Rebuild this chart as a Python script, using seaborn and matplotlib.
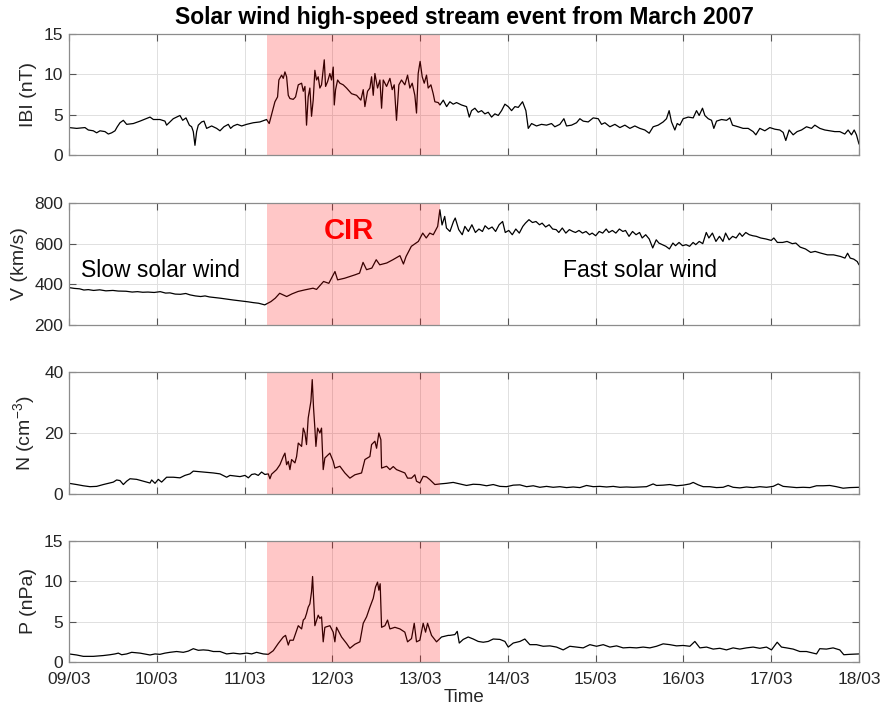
import numpy as np
import pandas as pd
import matplotlib
matplotlib.use("Agg")
import matplotlib.pyplot as plt
import matplotlib.dates as mdates
import seaborn as sns

# ---------------- data (time in days since 09/03/2007 00:00) ----------------
# |B| (nT)
B_T = [
    0.000, 0.087, 0.182, 0.220, 0.277, 0.315, 0.353, 0.410, 0.448, 0.486,
    0.524, 0.550, 0.581, 0.619, 0.657, 0.733, 0.809, 0.923, 0.961, 1.036,
    1.093, 1.112, 1.150, 1.188, 1.226, 1.264, 1.295, 1.333, 1.371, 1.397,
    1.416, 1.435, 1.454, 1.473, 1.511, 1.538, 1.568, 1.625, 1.682, 1.720,
    1.765, 1.815, 1.841, 1.872, 1.917, 1.967, 2.024, 2.100, 2.175, 2.251,
    2.281,
    2.308, 2.346, 2.376, 2.391, 2.422, 2.441, 2.460, 2.479, 2.498, 2.517,
    2.555, 2.581, 2.612, 2.650, 2.669, 2.688, 2.706, 2.725, 2.744, 2.763,
    2.782, 2.801, 2.820, 2.839, 2.858, 2.877, 2.908, 2.923, 2.946, 2.972,
    2.991, 3.010, 3.022, 3.037, 3.060, 3.086, 3.124, 3.162, 3.219, 3.276,
    3.325, 3.352, 3.371, 3.401, 3.428, 3.447, 3.466, 3.485, 3.515, 3.542,
    3.561, 3.580, 3.618, 3.656, 3.682, 3.705, 3.731, 3.758, 3.788, 3.826,
    3.857, 3.883, 3.910, 3.940, 3.959, 3.978, 4.000, 4.024, 4.047, 4.073,
    4.092, 4.123, 4.149, 4.168, 4.206,
    4.226, 4.264, 4.302, 4.339, 4.377, 4.415, 4.472, 4.529, 4.560, 4.586,
    4.624, 4.662, 4.700, 4.738, 4.776, 4.814, 4.852, 4.890, 4.928, 4.966,
    5.004, 5.042, 5.080, 5.118, 5.167, 5.205, 5.232, 5.270, 5.326, 5.383,
    5.440, 5.497, 5.535, 5.592, 5.638, 5.668, 5.725, 5.782, 5.820, 5.858,
    5.915, 5.972, 6.029, 6.067, 6.105, 6.162, 6.219, 6.276, 6.333, 6.390,
    6.446, 6.503, 6.560, 6.610, 6.655, 6.712, 6.769, 6.807, 6.837, 6.864,
    6.902, 6.929, 6.959, 6.997, 7.054, 7.111, 7.149, 7.179, 7.217, 7.244,
    7.282, 7.320, 7.346, 7.377, 7.434, 7.491, 7.529, 7.559, 7.623, 7.680,
    7.737, 7.794, 7.825, 7.870, 7.927, 7.984, 8.041, 8.098, 8.136, 8.166,
    8.204, 8.250, 8.295, 8.345, 8.402, 8.459, 8.497, 8.554, 8.611, 8.667,
    8.724, 8.781, 8.838, 8.876, 8.914, 8.945, 8.971, 9.000]
B_V = [
    3.4, 3.3, 3.4, 3.1, 3.0, 2.75, 3.0, 2.9, 2.6, 2.75,
    3.0, 3.5, 4.0, 4.3, 3.8, 3.9, 4.2, 4.7, 4.4, 4.4,
    4.2, 3.7, 4.1, 4.5, 4.7, 4.9, 4.3, 4.6, 3.7, 3.5,
    2.9, 1.2, 2.9, 3.7, 4.1, 4.2, 3.3, 3.6, 3.3, 3.0,
    3.5, 3.8, 3.3, 3.6, 3.8, 3.6, 3.8, 4.0, 4.1, 4.4,
    3.9,
    5.0, 6.6, 7.2, 9.3, 9.9, 9.5, 10.3, 9.7, 7.4, 7.0,
    6.9, 7.2, 8.7, 8.9, 7.9, 8.5, 3.7, 7.2, 8.3, 4.8,
    6.8, 10.5, 9.3, 9.7, 8.3, 8.7, 11.8, 8.5, 9.1, 10.1,
    9.3, 10.9, 6.2, 8.1, 9.3, 8.9, 8.7, 8.3, 7.6, 7.4,
    6.8, 8.1, 6.0, 7.9, 8.3, 9.7, 7.4, 10.1, 8.3, 9.3,
    5.8, 9.3, 8.5, 9.5, 8.1, 8.7, 4.3, 8.7, 9.3, 8.7,
    9.9, 8.3, 8.9, 7.4, 5.2, 10.1, 11.6, 9.7, 8.9, 9.9,
    8.3, 8.7, 7.6, 6.6, 6.5,
    6.2, 6.8, 6.0, 6.6, 6.3, 6.5, 6.2, 6.0, 4.7, 5.5,
    5.8, 5.3, 5.5, 5.1, 5.3, 4.7, 5.1, 4.9, 5.5, 6.3,
    6.0, 5.5, 6.0, 5.9, 6.6, 5.5, 3.3, 3.9, 3.6, 3.8,
    3.7, 3.9, 3.5, 3.8, 4.5, 3.6, 3.7, 4.0, 4.5, 4.2,
    4.1, 4.6, 4.5, 3.8, 4.0, 3.5, 3.8, 3.4, 3.7, 3.3,
    3.6, 3.3, 3.1, 2.7, 3.5, 3.7, 4.1, 4.5, 5.5, 4.1,
    3.1, 3.9, 3.7, 4.5, 4.7, 4.6, 5.5, 4.9, 5.8, 4.9,
    4.5, 4.3, 3.3, 4.2, 4.4, 4.3, 4.6, 3.7, 3.5, 3.3,
    3.3, 2.9, 2.5, 3.3, 3.0, 3.4, 3.2, 3.1, 2.8, 1.8,
    3.1, 2.5, 2.9, 3.1, 3.5, 3.3, 3.7, 3.3, 3.1, 3.0,
    2.9, 2.9, 2.6, 3.1, 2.5, 3.1, 2.5, 1.35]

# V (km/s)
V_T = [
    0.00, 0.06, 0.12, 0.17, 0.22, 0.28, 0.35, 0.42, 0.50, 0.56,
    0.65, 0.72, 0.78, 0.84, 0.90, 0.97, 1.04, 1.10, 1.15, 1.21,
    1.27, 1.33, 1.38, 1.44, 1.50, 1.55, 1.60, 1.66, 1.72, 1.80,
    1.87, 1.93, 1.98, 2.04, 2.10, 2.16, 2.23,
    2.30, 2.35, 2.40, 2.48, 2.54, 2.61, 2.69, 2.78, 2.82, 2.90,
    2.96, 3.03, 3.06, 3.14, 3.26, 3.31, 3.35, 3.39, 3.45, 3.50,
    3.54, 3.62, 3.69, 3.77, 3.81, 3.84, 3.90, 3.98, 4.03, 4.07,
    4.11, 4.15, 4.20, 4.225, 4.25, 4.28,
    4.30, 4.34, 4.38, 4.40, 4.44, 4.48, 4.51, 4.55, 4.59, 4.63,
    4.67, 4.71, 4.74, 4.78, 4.82, 4.86, 4.90, 4.94, 4.97, 5.01,
    5.05, 5.09, 5.13, 5.17, 5.20, 5.24, 5.28, 5.32, 5.36, 5.39,
    5.43, 5.47, 5.51, 5.55, 5.58, 5.62, 5.66, 5.70, 5.74, 5.77,
    5.81, 5.85, 5.89, 5.93, 5.96, 6.00, 6.04, 6.08, 6.12, 6.15,
    6.19, 6.23, 6.27, 6.31, 6.34, 6.38, 6.42, 6.46, 6.50, 6.53,
    6.57, 6.61, 6.65, 6.69, 6.72, 6.76, 6.80, 6.84, 6.88, 6.91,
    6.95, 6.99, 7.03, 7.07, 7.11, 7.14, 7.18, 7.22, 7.26, 7.29,
    7.33, 7.37, 7.41, 7.45, 7.48, 7.52, 7.56, 7.60, 7.64, 7.67,
    7.71, 7.75, 7.79, 7.83, 7.88, 7.94, 8.00, 8.03, 8.07, 8.13,
    8.18, 8.24, 8.28, 8.33, 8.39, 8.45, 8.50, 8.56, 8.64, 8.71,
    8.79, 8.84, 8.87, 8.90, 8.94, 8.98, 9.00]
V_V = [
    384, 380, 378, 372, 374, 370, 373, 368, 370, 367,
    366, 362, 364, 361, 362, 360, 364, 357, 358, 352,
    351, 355, 348, 343, 340, 343, 338, 335, 332, 327,
    323, 320, 318, 314, 310, 307, 299,
    315, 332, 356, 340, 353, 365, 373, 381, 375, 414,
    405, 463, 422, 430, 447, 455, 508, 472, 480, 521,
    496, 505, 521, 541, 500, 537, 587, 611, 652, 628,
    652, 644, 685, 767, 692, 734,
    677, 660, 709, 726, 669, 644, 685, 660, 693, 655,
    672, 660, 688, 672, 682, 660, 693, 709, 655, 665,
    644, 672, 652, 685, 701, 718, 704, 709, 693, 701,
    682, 693, 672, 669, 655, 677, 652, 669, 660, 655,
    665, 652, 660, 644, 652, 639, 660, 652, 672, 655,
    665, 652, 672, 660, 665, 636, 660, 644, 655, 628,
    644, 623, 579, 619, 603, 595, 587, 574, 603, 590,
    606, 590, 595, 587, 606, 595, 611, 600, 655, 628,
    652, 611, 636, 611, 652, 619, 636, 628, 652, 636,
    655, 644, 639, 636, 628, 623, 616, 628, 606, 606,
    611, 600, 603, 583, 574, 557, 562, 554, 545, 545,
    537, 529, 553, 529, 524, 512, 496]

# N (cm^-3)
N_T = [
    0.000, 0.087, 0.163, 0.239, 0.315, 0.391, 0.448, 0.505, 0.543, 0.581,
    0.619, 0.657, 0.695, 0.771, 0.847, 0.923, 0.942, 0.980, 1.017, 1.055,
    1.112, 1.188, 1.264, 1.321, 1.378, 1.416, 1.492, 1.568, 1.644, 1.720,
    1.796, 1.834, 1.891, 1.948, 2.005, 2.043, 2.081, 2.118, 2.156, 2.194,
    2.232, 2.270, 2.289,
    2.308, 2.365, 2.403, 2.441, 2.460, 2.479, 2.498, 2.517, 2.536, 2.574,
    2.593, 2.612, 2.650, 2.669, 2.688, 2.706, 2.725, 2.756, 2.771, 2.786,
    2.801, 2.813, 2.832, 2.858, 2.877, 2.896, 2.915, 2.972, 3.010, 3.029,
    3.086, 3.143, 3.200, 3.257, 3.333, 3.371, 3.428, 3.447, 3.485, 3.504,
    3.530, 3.553, 3.561, 3.618, 3.656, 3.694, 3.731, 3.826, 3.857, 3.902,
    3.940, 3.959, 3.997, 4.035, 4.073, 4.111, 4.168, 4.225,
    4.300, 4.377, 4.453, 4.529, 4.605, 4.681, 4.757, 4.833, 4.909, 4.985,
    5.061, 5.137, 5.213, 5.289, 5.364, 5.440, 5.516, 5.592, 5.668, 5.744,
    5.820, 5.896, 5.972, 6.048, 6.124, 6.200, 6.276, 6.352, 6.428, 6.503,
    6.579, 6.655, 6.693, 6.769, 6.845, 6.921, 6.997, 7.073, 7.111, 7.168,
    7.225, 7.300, 7.376, 7.452, 7.509, 7.566, 7.642, 7.718, 7.794, 7.870,
    7.946, 8.022, 8.079, 8.136, 8.212, 8.288, 8.364, 8.440, 8.516, 8.592,
    8.667, 8.743, 8.819, 8.895, 9.000]
N_V = [
    3.5, 3.1, 2.7, 2.4, 2.5, 3.1, 3.5, 3.9, 4.6, 4.4,
    3.1, 4.2, 5.0, 4.8, 4.2, 3.6, 4.6, 3.5, 4.8, 3.9,
    5.5, 5.5, 5.3, 6.1, 6.6, 7.5, 7.3, 7.1, 6.9, 6.6,
    5.5, 6.1, 5.9, 5.7, 6.1, 5.3, 6.4, 6.6, 6.1, 7.2,
    6.4, 6.6, 5.0,
    6.5, 8.0, 9.6, 12.3, 13.4, 9.6, 10.7, 8.0, 11.3, 10.2,
    12.3, 16.7, 15.6, 21.6, 20.0, 16.2, 24.9, 30.4, 37.5, 28.2,
    21.6, 15.6, 21.6, 20.0, 21.6, 8.0, 11.8, 13.4, 10.7, 8.5,
    9.1, 6.9, 5.2, 6.3, 6.9, 11.3, 12.3, 16.2, 17.3, 15.0,
    20.0, 17.8, 8.5, 9.1, 8.0, 9.0, 8.0, 6.9, 5.2, 5.2,
    6.3, 4.2, 3.6, 5.8, 5.6, 4.7, 3.1, 3.3,
    3.5, 3.8, 3.3, 2.8, 3.2, 3.1, 2.7, 3.1, 2.5, 2.4,
    2.9, 3.0, 2.4, 2.7, 2.2, 2.5, 2.2, 2.4, 2.1, 2.3,
    2.1, 2.8, 2.4, 2.5, 2.3, 2.5, 2.2, 2.3, 2.2, 2.3,
    2.4, 3.3, 2.8, 2.9, 3.1, 2.7, 2.9, 3.3, 3.8, 3.0,
    2.4, 2.4, 2.1, 2.2, 2.8, 2.2, 2.0, 2.3, 2.1, 2.4,
    2.2, 2.5, 3.3, 2.5, 2.3, 2.1, 2.2, 2.1, 2.7, 2.7,
    2.8, 2.4, 1.9, 2.1, 2.2]

# P (nPa)
P_T = [
    0.000, 0.087, 0.163, 0.277, 0.391, 0.467, 0.524, 0.562, 0.600, 0.657,
    0.714, 0.809, 0.923, 0.980, 1.036, 1.093, 1.150, 1.226, 1.302, 1.359,
    1.416, 1.473, 1.530, 1.587, 1.644, 1.720, 1.796, 1.872, 1.948, 2.024,
    2.081, 2.137, 2.213, 2.270,
    2.327, 2.384, 2.441, 2.467, 2.498, 2.517, 2.555, 2.593, 2.612, 2.650,
    2.669, 2.688, 2.706, 2.725, 2.744, 2.763, 2.775, 2.790, 2.801, 2.839,
    2.858, 2.877, 2.896, 2.915, 2.972, 3.010, 3.029, 3.048, 3.105, 3.162,
    3.200, 3.257, 3.314, 3.352, 3.390, 3.428, 3.466, 3.492, 3.515, 3.530,
    3.545, 3.561, 3.599, 3.629, 3.656, 3.713, 3.770, 3.826, 3.857, 3.902,
    3.933, 3.959, 3.997, 4.035, 4.062, 4.085, 4.130, 4.187, 4.244, 4.320,
    4.339, 4.396, 4.423, 4.446, 4.491, 4.548, 4.605, 4.662, 4.719, 4.776,
    4.833, 4.909, 4.966, 5.004, 5.061, 5.137, 5.193, 5.250, 5.326, 5.402,
    5.478, 5.554, 5.630, 5.706, 5.782, 5.858, 5.934, 6.010, 6.086, 6.162,
    6.238, 6.313, 6.389, 6.465, 6.541, 6.617, 6.693, 6.769, 6.845, 6.921,
    6.997, 7.073, 7.130, 7.187, 7.263, 7.339, 7.414, 7.490, 7.566, 7.642,
    7.718, 7.794, 7.870, 7.946, 8.003, 8.068, 8.117, 8.174, 8.250, 8.326,
    8.402, 8.477, 8.516, 8.553, 8.629, 8.705, 8.781, 8.827, 8.895, 9.000]
P_V = [
    1.0, 0.87, 0.7, 0.7, 0.8, 0.9, 1.0, 1.1, 0.9, 1.0,
    1.2, 1.1, 0.87, 1.0, 0.95, 1.1, 1.2, 1.3, 1.2, 1.35,
    1.65, 1.45, 1.5, 1.45, 1.3, 1.3, 1.0, 1.1, 1.0, 1.1,
    1.0, 1.2, 1.0, 0.95,
    1.4, 2.3, 3.1, 3.3, 2.1, 2.7, 2.7, 3.9, 4.5, 4.1,
    5.2, 5.4, 6.0, 6.8, 7.2, 8.7, 10.6, 7.2, 4.5, 5.8,
    5.4, 5.6, 2.5, 4.3, 4.5, 3.7, 2.5, 4.3, 3.1, 2.3,
    1.7, 2.2, 2.5, 4.8, 5.6, 6.8, 7.9, 9.3, 9.9, 8.9,
    9.7, 4.3, 4.5, 5.2, 4.1, 4.3, 4.1, 3.7, 2.5, 2.9,
    4.8, 2.5, 2.7, 4.8, 3.7, 4.8, 3.3, 2.5, 3.1, 3.3,
    3.3, 3.4, 3.8, 2.35, 2.8, 3.1, 2.85, 2.55, 2.45, 2.55,
    2.85, 2.8, 2.55, 1.85, 2.35, 2.55, 2.85, 2.15, 2.15, 1.95,
    2.0, 1.85, 1.5, 1.95, 1.85, 1.75, 2.15, 1.95, 2.15, 1.85,
    2.0, 1.75, 1.8, 1.75, 1.85, 1.75, 1.95, 2.25, 2.15, 2.0,
    2.05, 1.95, 2.55, 1.75, 1.85, 1.6, 1.7, 1.5, 1.75, 1.6,
    1.75, 1.85, 1.7, 1.85, 1.5, 2.45, 1.85, 1.75, 1.6, 1.3,
    1.3, 1.1, 1.0, 1.65, 1.6, 1.75, 1.5, 0.9, 0.95, 1.0]

START = "2007-03-09"
END = "2007-03-18"
CIR_START = "2007-03-11 06:15"
CIR_END = "2007-03-13 05:25"

YLABELS = ["IBI (nT)", "V (km/s)", "N (cm$^{-3}$)", "P (nPa)"]
YLIMS = [(0, 15), (200, 800), (0, 40), (0, 15)]
YTICKS = [[0, 5, 10, 15], [200, 400, 600, 800], [0, 20, 40], [0, 5, 10, 15]]
TITLE = "Solar wind high-speed stream event from March 2007"

# ---------------- styling ----------------
sns.set_theme(style="white")
plt.rcParams["font.family"] = ["Liberation Sans", "DejaVu Sans"]
plt.rcParams["mathtext.fontset"] = "custom"
plt.rcParams["mathtext.rm"] = "Liberation Sans"
plt.rcParams["mathtext.it"] = "Liberation Sans"

t0 = pd.Timestamp(START)
series = [(B_T, B_V), (V_T, V_V), (N_T, N_V), (P_T, P_V)]

fig = plt.figure(figsize=(8.83, 7.11), dpi=100)
left = 69 / 883
width = (859 - 69) / 883
tops = [34, 203, 372, 541]
bots = [155, 325, 494, 662]
axes = []
for top, bot in zip(tops, bots):
    ax = fig.add_axes([left, 1 - bot / 711, width, (bot - top) / 711])
    axes.append(ax)

edge = "#8c8c8c"
for i, (ax, (tt, vv)) in enumerate(zip(axes, series)):
    df = pd.DataFrame({"time": t0 + pd.to_timedelta(np.array(tt), unit="D"),
                       "value": vv})
    sns.lineplot(data=df, x="time", y="value", ax=ax, color="black",
                 lw=0.9, zorder=2, sort=False)
    ax.axvspan(pd.Timestamp(CIR_START), pd.Timestamp(CIR_END),
               color=(1.0, 0.0, 0.0), alpha=0.22, lw=0, zorder=3)
    ax.set_xlim(pd.Timestamp(START), pd.Timestamp(END))
    ax.set_ylim(*YLIMS[i])
    ax.set_yticks(YTICKS[i])
    ax.xaxis.set_major_locator(mdates.DayLocator())
    ax.xaxis.set_major_formatter(mdates.DateFormatter("%d/%m"))
    ax.grid(True, color="#e0e0e0", lw=0.7)
    ax.set_axisbelow(True)
    for s in ax.spines.values():
        s.set_color(edge)
        s.set_linewidth(0.9)
        s.set_zorder(5)
    ax.tick_params(direction="in", length=5, width=0.8, color="#555555",
                   top=True, right=True, bottom=True, left=True,
                   labelsize=12.5, labelcolor="#262626", pad=4)
    ax.set_ylabel(YLABELS[i], fontsize=14, color="#262626", labelpad=5)
    if i < 3:
        ax.tick_params(labelbottom=False)
        ax.set_xlabel("")
    else:
        ax.tick_params(axis="x", pad=7)
        ax.set_xlabel("Time", fontsize=13.5, color="#262626", labelpad=2)

axes[0].set_title(TITLE, fontsize=16.5, fontweight="bold", pad=7,
                  color="black")

axv = axes[1]
axv.text(pd.Timestamp("2007-03-09 03:20"), 470, "Slow solar wind",
         fontsize=16.5, ha="left", va="center", color="black", zorder=6)
axv.text(pd.Timestamp("2007-03-15 12:15"), 470, "Fast solar wind",
         fontsize=16.5, ha="center", va="center", color="black", zorder=6)
axv.text(pd.Timestamp("2007-03-12 04:25"), 660, "CIR",
         fontsize=21, fontweight="bold", ha="center", va="center",
         color="red", zorder=6)

fig.savefig("out.png", dpi=100)
